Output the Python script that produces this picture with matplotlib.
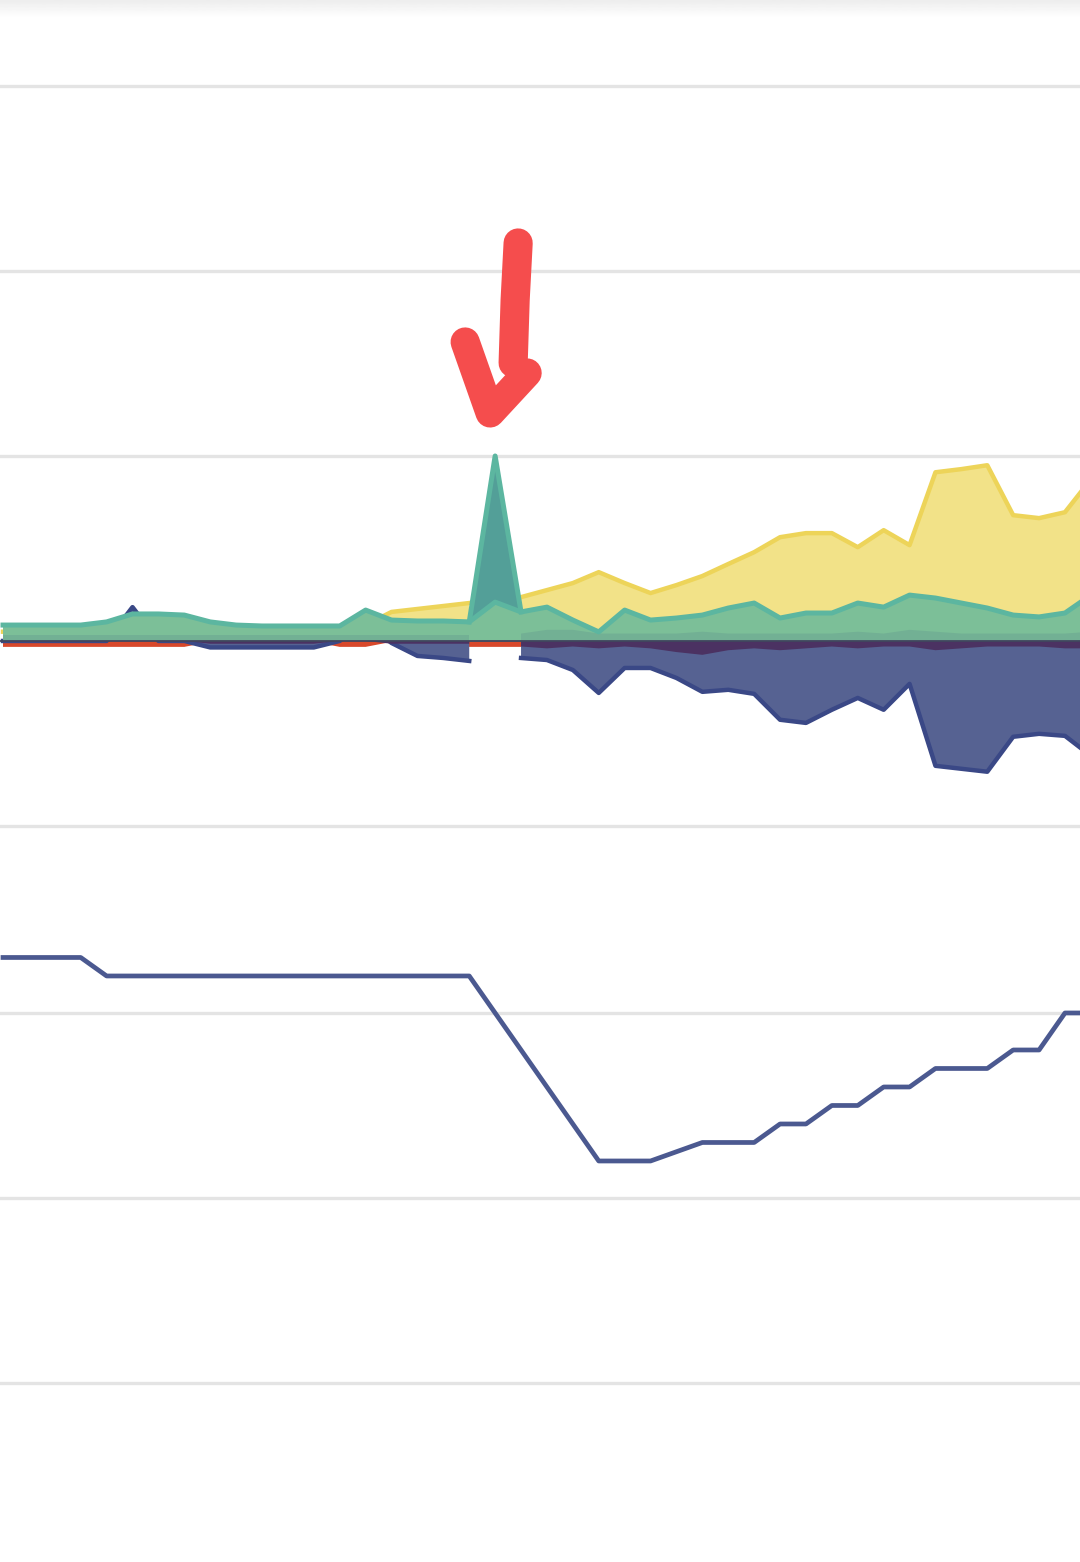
import matplotlib
matplotlib.use("Agg")
import matplotlib.pyplot as plt
import matplotlib.transforms as mtransforms
from matplotlib.lines import Line2D
import numpy as np

nan = np.nan

# Data (43 time steps, the view is cropped on both sides)
steps = np.arange(43)

yellow = [5, 5, 5, 5, 5, 5, 5, 5, 5, 5, 5, 5, 5, 5, 8.6,
          15.7, 17.3, 18.9, 20.5, nan,
          23.7, 27.5, 31.3, 37.2, 31.3, 25.9, 30.2, 35.1, 41.6, 48.0, 56.1, 58.3,
          58.3, 50.7, 59.9, 51.8, 91.2, 92.9, 95.0, 68.0, 66.4, 69.6, 87.4]

green = [8.6, 8.6, 8.6, 8.6, 10.3, 14.6, 14.6, 14.0, 10.3, 8.6, 8.1, 8.1, 8.1, 8.1,
         16.7, 11.3, 10.8, 10.8, 10.3, 21.0, 15.7, 18.3, 11.3, 4.9, 16.7, 11.3, 12.4,
         14.0, 17.8, 20.5, 12.4, 15.1, 15.1, 20.5, 18.3, 24.8, 23.2, 20.5, 17.8, 14.0,
         13.0, 15.1, 24.8]

spike = [nan] * 18 + [10.3, 100.0, 15.7] + [nan] * 22

band = [3] * 19 + [nan] + [4, 6, 6, 4, 4, 4, 4, 5, 4, 4, 4, 4, 4, 5, 4, 6, 5, 4, 4, 4, 4, 4, 5]

navy = [0, 0, 0, 0, 0, 18.3, 0, 0, -3.5, -3.5, -3.5, -3.5, -3.5, 0, 10.3,
        -1.1, -8.1, -9.2, -10.8, nan,
        -9.2, -10.3, -15.7, -28.1, -14.6, -14.6, -20.0, -27.5, -26.4, -28.6, -42.6,
        -44.3, -37.2, -30.8, -37.2, -23.2, -67.5, -69.1, -70.7, -51.8, -50.2, -51.3, -62.1]

purple = [0] * 8 + [-1.5] * 5 + [0, 0] + [-1.5] * 4 + [nan] + \
         [-3, -4, -3, -4, -3, -4, -6, -7.5, -5, -4, -5, -4, -3, -4, -3, -3, -5, -4,
          -3, -3, -3, -4, -4]

red = [-3.2] * 8 + [-0.5] * 5 + [-3.2] * 2 + [-0.5] * 3 + [-3.2] * 3 + [-0.5] * 22

level = [33, 33, 33, 33] + [32] * 15 + \
        [30, 28, 26, 24, 22, 22, 22, 22.5, 23, 23, 23, 24, 24, 25, 25, 26, 26, 27,
         27, 27, 28, 28, 30, 30]

yellow, green, spike, band = map(np.array, (yellow, green, spike, band))
navy, purple, red, level = map(np.array, (navy, purple, red, level))

W, H = 1080, 1562
fig = plt.figure(figsize=(W / 100, H / 100), dpi=100)
fig.patch.set_facecolor("white")

ax1 = fig.add_axes([0, 722 / H, 1, 840 / H])
ax2 = fig.add_axes([0, 0, 1, 722 / H])

grid_kw = dict(color="#e4e4e4", linewidth=2.4, zorder=0)

# ------------------ top chart: areas ------------------
ax1.fill_between(steps, 0, red, color="#d8482b", linewidth=0, zorder=1)

ax1.fill_between(steps, 0, yellow, color="#f2e288", linewidth=0, zorder=2)
ax1.plot(steps, yellow, color="#edd459", linewidth=3.2, zorder=2.1)

ax1.fill_between(steps, 0, navy, color="#566292", linewidth=0, zorder=3)
ax1.plot(steps, navy, color="#3a4886", linewidth=3.2, zorder=3.1)

ax1.fill_between(steps, 0, purple, color="#4b3262", linewidth=0, zorder=3.2)

ax1.fill_between(steps, 0, spike, color="#539f98", linewidth=0, zorder=4)

ax1.fill_between(steps, 0, green, color="#7cbf98", linewidth=0, zorder=5)
ax1.plot(steps, green, color="#5cb6a0", linewidth=3.6, zorder=5.2)
ax1.fill_between(steps, 0, band, color="#72b094", linewidth=0, zorder=5.1)

ax1.plot(steps, spike, color="#5cb6a0", linewidth=3.6, zorder=5.3)
ax1.axhline(0, color="#41465e", linewidth=1.3, zorder=6)

for v in [-100, 100, 200, 300]:
    ax1.axhline(v, **grid_kw)

ax1.set_xlim(-0.116, 41.58)
ax1.set_ylim(-107.6, 346.5)

# ------------------ bottom chart: line ------------------
ax2.plot(steps, level, color="#4b5990", linewidth=3.4, zorder=3)
for v in [10, 20, 30]:
    ax2.axhline(v, **grid_kw)
ax2.set_xlim(-0.116, 41.58)
ax2.set_ylim(0.324, 39.35)

for ax in (ax1, ax2):
    ax.axis("off")

# faint shadow along the top edge
shade = fig.add_axes([0, 1 - 18 / H, 1, 18 / H])
shade.imshow(np.linspace(0.93, 1.0, 30).reshape(-1, 1), cmap="gray", vmin=0, vmax=1,
             aspect="auto", interpolation="bilinear")
shade.axis("off")

# hand drawn red arrow pointing at the spike
fig.canvas.draw()
tip = ax1.transData.transform((steps[19], spike[19]))
stem = np.array([(23, 213), (20, 156), (18, 93)]) + tip
head = np.array([(-30, 114), (-5, 43), (32, 83)]) + tip
for pts in (stem, head):
    fig.add_artist(Line2D(pts[:, 0], pts[:, 1], color="#f54d4d", linewidth=21,
                          solid_capstyle="round", solid_joinstyle="round",
                          transform=mtransforms.IdentityTransform(), zorder=10))

fig.savefig("out.png", dpi=100)
